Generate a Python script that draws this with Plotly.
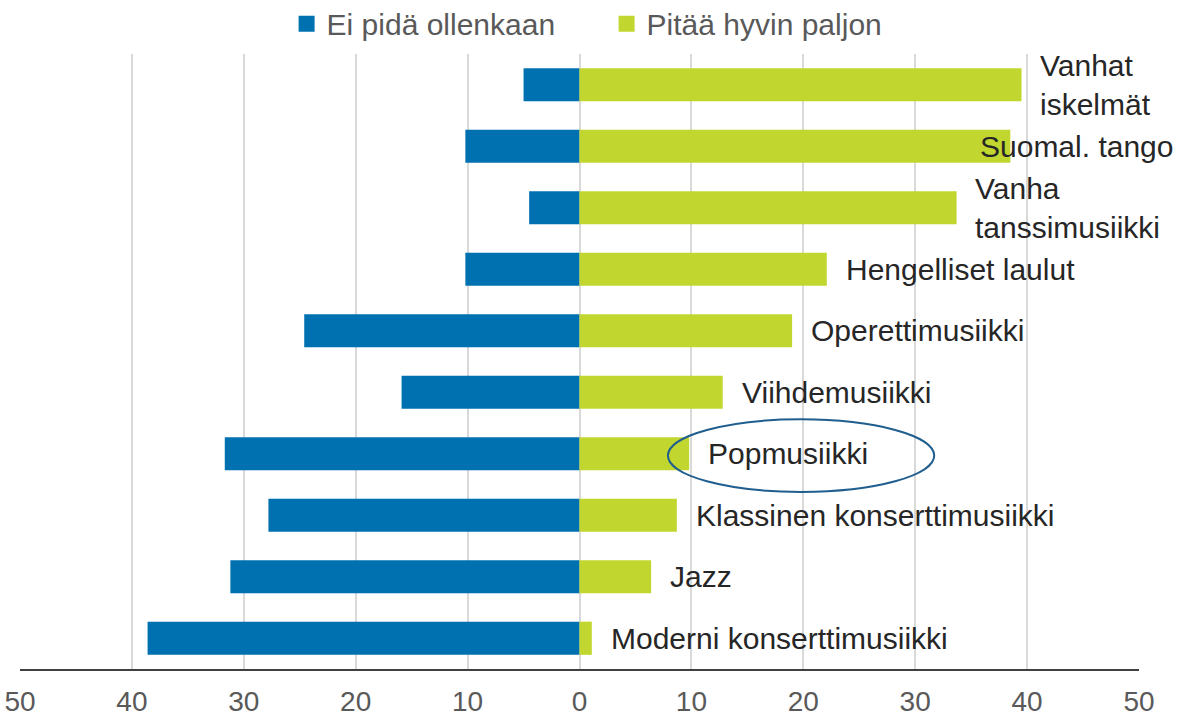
import plotly.graph_objects as go

# ---- data (top to bottom as shown) ----
categories = [
    "Vanhat iskelmät",
    "Suomal. tango",
    "Vanha tanssimusiikki",
    "Hengelliset laulut",
    "Operettimusiikki",
    "Viihdemusiikki",
    "Popmusiikki",
    "Klassinen konserttimusiikki",
    "Jazz",
    "Moderni konserttimusiikki",
]
label_text = [
    "Vanhat<br>iskelmät",
    "Suomal. tango",
    "Vanha<br>tanssimusiikki",
    "Hengelliset laulut",
    "Operettimusiikki",
    "Viihdemusiikki",
    "Popmusiikki",
    "Klassinen konserttimusiikki",
    "Jazz",
    "Moderni konserttimusiikki",
]
ei_pida = [5.0, 10.2, 4.5, 10.2, 24.6, 15.9, 31.7, 27.8, 31.2, 38.6]      # "Ei pidä ollenkaan"
pitaa_paljon = [39.5, 38.5, 33.7, 22.1, 19.0, 12.8, 9.8, 8.7, 6.4, 1.1]  # "Pitää hyvin paljon"
tick_vals = [-50, -40, -30, -20, -10, 0, 10, 20, 30, 40, 50]
tick_text = [str(abs(v)) for v in tick_vals]
series_names = ["Ei pidä ollenkaan", "Pitää hyvin paljon"]

BLUE = "#0071B0"
GREEN = "#C1D72F"
FONT = "Liberation Sans, Arial, sans-serif"

fig = go.Figure()
fig.add_trace(go.Bar(
    y=categories, x=[-v for v in ei_pida], orientation="h",
    marker=dict(color=BLUE, line=dict(width=0)), name=series_names[0], showlegend=False,
))
fig.add_trace(go.Bar(
    y=categories, x=pitaa_paljon, orientation="h",
    marker=dict(color=GREEN, line=dict(width=0)), name=series_names[1], showlegend=False,
))
# legend proxies (square markers)
for name, col in zip(series_names, [BLUE, GREEN]):
    fig.add_trace(go.Scatter(
        x=[None], y=[None], mode="markers", name=name,
        marker=dict(symbol="square", size=16, color=col),
    ))

# category labels placed right of the green bars
for i, (cat, txt, v) in enumerate(zip(categories, label_text, pitaa_paljon)):
    xpos = v + 1.5
    if cat == "Suomal. tango":
        xpos = 35.6
    fig.add_annotation(
        x=xpos, y=i, xref="x", yref="y", text=txt, showarrow=False,
        xanchor="left", yanchor="middle", align="left",
        font=dict(family=FONT, size=30, color="#262626"),
    )

# ellipse highlighting Popmusiikki
pop_i = categories.index("Popmusiikki")
fig.add_shape(
    type="circle", xref="x", yref="y",
    x0=7.9, x1=31.7, y0=pop_i - 0.56, y1=pop_i + 0.62,
    line=dict(color="#1F5E8E", width=2), fillcolor="rgba(0,0,0,0)", layer="above",
)

n = len(categories)
fig.update_layout(
    width=1178, height=720, autosize=False,
    margin=dict(l=20, r=39, t=54, b=51, autoexpand=False),
    barmode="relative", bargap=0.46,
    plot_bgcolor="white", paper_bgcolor="white",
    font=dict(family=FONT, size=30, color="#595959"),
    legend=dict(
        orientation="h", xref="container", yref="container",
        x=0.2433, y=0.967, xanchor="left", yanchor="middle",
        font=dict(family=FONT, size=30, color="#595959"),
        entrywidth=275, entrywidthmode="pixels",
        bgcolor="rgba(0,0,0,0)",
    ),
    xaxis=dict(
        range=[-50, 50], tickvals=tick_vals, ticktext=tick_text,
        showgrid=True, gridcolor="#D9D9D9", gridwidth=1.5, zeroline=False,
        showline=True, linecolor="#404040", linewidth=2,
        ticks="", tickfont=dict(family=FONT, size=28, color="#595959"),
        ticklabelstandoff=6, automargin=False,
        fixedrange=True,
    ),
    yaxis=dict(
        type="category", categoryorder="array", categoryarray=categories,
        range=[n - 0.5, -0.5], autorange=False,
        showticklabels=False, showgrid=False,
        zeroline=False, showline=False, ticks="", fixedrange=True, automargin=False,
    ),
)

fig.write_html(
    "out.html",
    config={"displayModeBar": False},
    post_script="document.body.style.margin='0';",
)
